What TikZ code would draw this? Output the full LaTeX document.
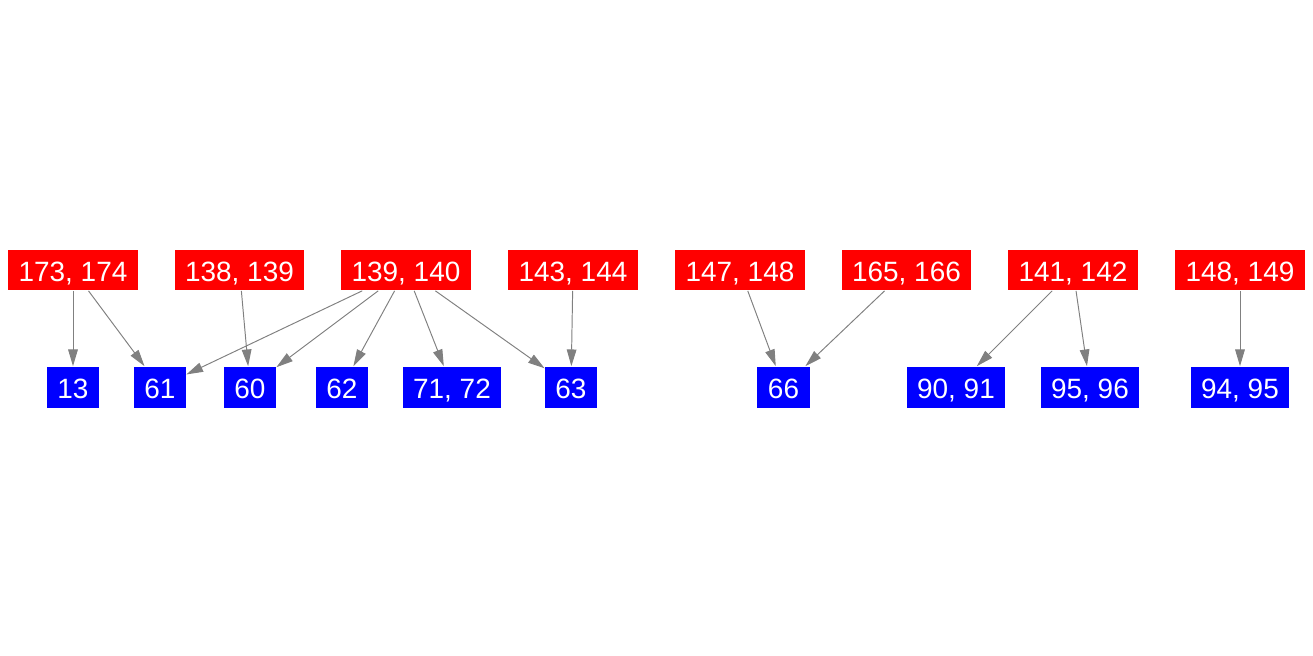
\documentclass[tikz,border=0pt]{standalone}
\usepackage{fontspec}
\setmainfont{Liberation Sans}
\usepackage{tikz}
\usetikzlibrary{arrows.meta}
\definecolor{edgegray}{RGB}{128,128,128}
\tikzstyle{redbox} = [fill=red, text=white, inner xsep=0.21cm, inner ysep=0pt, minimum height=0.82cm, text height=12.9pt, text depth=0pt, font=\fontsize{15.9}{18}\selectfont]
\tikzstyle{bluebox} = [fill=blue, text=white, inner xsep=0.21cm, inner ysep=0pt, minimum height=0.82cm, text height=12.9pt, text depth=0pt, font=\fontsize{15.9}{18}\selectfont]
\tikzstyle{arrow} = [draw=edgegray, line width=0.55pt, -{Triangle[length=9.5pt,width=5.5pt]}]

\begin{document}
\begin{tikzpicture}[x=0.02cm,y=-0.02cm]
			\useasboundingbox (0,0) rectangle (1313,656);
			% top row
			\node[redbox] (r173) at (73,270) {173, 174};
			\node[redbox] (r138) at (239.5,270) {138, 139};
			\node[redbox] (r139) at (406,270) {139, 140};
			\node[redbox] (r143) at (573,270) {143, 144};
			\node[redbox] (r147) at (740,270) {147, 148};
			\node[redbox] (r165) at (906.5,270) {165, 166};
			\node[redbox] (r141) at (1073,270) {141, 142};
			\node[redbox] (r148) at (1240,270) {148, 149};
			% bottom row
			\node[bluebox] (b13) at (73,387) {13};
			\node[bluebox] (b61) at (160,387) {61};
			\node[bluebox] (b60) at (250,387) {60};
			\node[bluebox] (b62) at (342,387) {62};
			\node[bluebox] (b71) at (452,387) {71, 72};
			\node[bluebox] (b63) at (571,387) {63};
			\node[bluebox] (b66) at (783.5,387) {66};
			\node[bluebox] (b90) at (956,387) {90, 91};
			\node[bluebox] (b95) at (1090,387) {95, 96};
			\node[bluebox] (b94) at (1240,387) {94, 95};
			% edges
			\draw [arrow] (r173) -- (b13);
			\draw [arrow] (r173) -- (b61);
			\draw [arrow] (r138) -- (b60);
			\draw [arrow] (r139) -- (b61);
			\draw [arrow] (r139) -- (b60);
			\draw [arrow] (r139) -- (b62);
			\draw [arrow] (r139) -- (b71);
			\draw [arrow] (r139) -- (b63);
			\draw [arrow] (r143) -- (b63);
			\draw [arrow] (r147) -- (b66);
			\draw [arrow] (r165) -- (b66);
			\draw [arrow] (r141) -- (b90);
			\draw [arrow] (r141) -- (b95);
			\draw [arrow] (r148) -- (b94);
			
		\end{tikzpicture}
\end{document}
